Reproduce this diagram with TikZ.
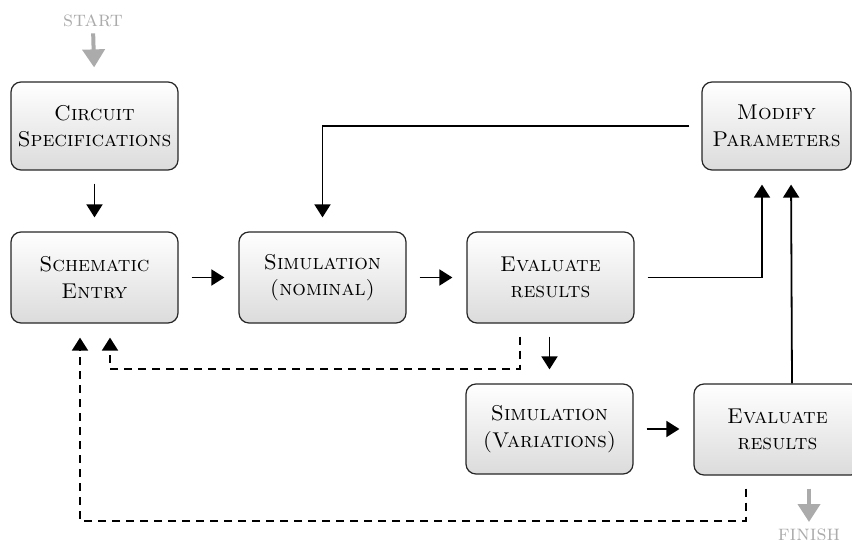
\documentclass[tikz,border=0pt]{standalone}
\usetikzlibrary{arrows.meta}
\begin{document}
\begin{tikzpicture}[x=0.5pt,y=-0.5pt,
  stage/.style={draw=black!85, line width=0.6pt, rounded corners=5pt,
    top color=white, bottom color=black!14, align=center, inner sep=0pt,
    minimum width=83.5pt, minimum height=45.5pt,
    font=\fontsize{10.7}{13.2}\selectfont\scshape},
  flow/.style={line width=0.9pt, -{Triangle[length=6.5pt,width=8pt]},
    shorten >=7pt, shorten <=6.5pt},
  back/.style={flow, dash pattern=on 4pt off 3pt},
  term/.style={text=black!33, inner sep=0pt,
    font=\fontsize{11}{13}\selectfont\scshape},
  termflow/.style={draw=black!33, line width=2pt,
    -{Triangle[length=9pt,width=11pt]}}
]
\useasboundingbox (0,0) rectangle (852,540);

% process stages
\node[stage, minimum height=44pt] (cs) at (94.5,126) {Circuit\\Specifications};
\node[stage] (se) at (94.5,277.5) {Schematic\\Entry};
\node[stage] (sn) at (322.5,277.5) {Simulation\\(nominal)};
\node[stage] (er1) at (550.5,277.5) {Evaluate\\results};
\node[stage, minimum width=74.5pt, minimum height=44pt] (mp) at (776.5,126) {Modify\\Parameters};
\node[stage, minimum height=45pt] (sv) at (549.5,429) {Simulation\\(Variations)};
\node[stage] (er2) at (777.5,429.5) {Evaluate\\results};

% entry and exit markers
\node[term] (start) at (93,21) {start};
\node[term, anchor=north] (finish) at (809,528) {finish};
\draw[termflow, shorten <=3pt, shorten >=7pt] (start.south) -- (cs.north);
\draw[termflow, shorten <=6.5pt, shorten >=3pt]
  ([xshift=15.75pt]er2.south) -- (finish.north);

% main flow
\draw[flow] (cs.south) -- (se.north);
\draw[flow] (se.east) -- (sn.west);
\draw[flow] (sn.east) -- (er1.west);
\draw[flow] (er1.south -| sv.north) -- (sv.north);
\draw[flow] (sv.east) -- (sv.east -| er2.west);
\draw[flow] (er1.east) -| ([xshift=-7.25pt]mp.south);
\draw[flow, shorten <=0pt] ([xshift=7.25pt]er2.north) -- ([xshift=7.25pt]mp.south);
\draw[flow, shorten <=6pt] (mp.west) -| (sn.north);

% feedback to schematic entry
\draw[back] ([xshift=-15.25pt]er1.south) -- ++(0,45) -| ([xshift=7.75pt]se.south);
\draw[back] ([xshift=-15.75pt]er2.south) -- ++(0,45) -| ([xshift=-7.25pt]se.south);
\end{tikzpicture}
\end{document}
